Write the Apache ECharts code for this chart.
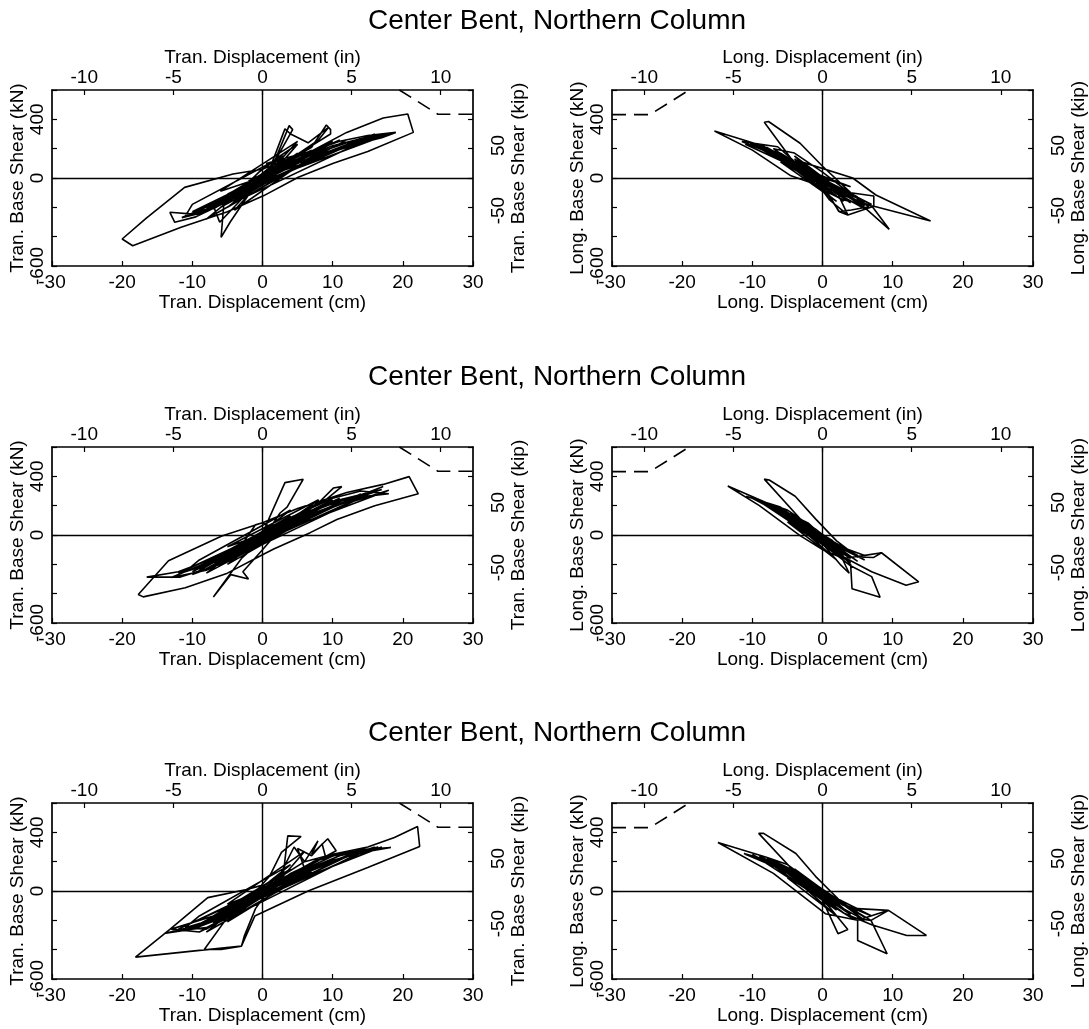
<!DOCTYPE html>
<html><head><meta charset="utf-8">
<script src="https://cdn.jsdelivr.net/npm/echarts@6/dist/echarts.min.js"></script>
<style>html,body{margin:0;padding:0;background:#fff}#c{width:1089px;height:1029px}</style>
</head><body><div id="c"></div>
<script>
const titleText = 'Center Bent, Northern Column';
const inchTicks = [-10, -5, 0, 5, 10];
const kipTicks = [-50, 50];
const kNLabelTicks = [-600, 0, 400];

// Tran. (cm, kN) hysteresis traces, rows 1..3
const tran1 = [[0,0],[1.5,45],[-1,-35],[2.5,80],[-2,-70],[1,30],[3.8,357],[4.3,330],[1,50],[-3,-90],[-5.5,-170],[-5.9,-404],[-4.6,-300],[-1.5,-80],[3,100],[7,210],[9.1,361],[9.7,330],[9.7,300],[6,190],[2,70],[-2,-50],[-7,-190],[-6.1,-302],[-3.5,-170],[1,60],[3.2,335],[4,300],[6.5,240],[9.4,345],[8,260],[4,130],[0,-20],[-4,-130],[-9,-250],[-13.2,-234],[-12.5,-302],[-9.5,-265],[-5,-160],[-1,-30],[5,150],[11,250],[15,290],[19,311],[17,275],[12,215],[7,120],[2,10],[-3,-110],[-8,-230],[-11.5,-270],[-9,-220],[-5,-130],[0,0],[6,140],[12,240],[17,290],[13.5,230],[8,150],[3,30],[-2,-90],[-7,-200],[-10.5,-255],[-6,-150],[-1,-10],[4,110],[10,220],[15,280],[18.5,305],[14,250],[9,160],[4,50],[-1,-70],[-6,-180],[2,60],[-7,-210],[8,200],[-5,-110],[10,250],[-8,-200],[14,270],[-3,-100],[16,300],[5,100],[-9,-240],[3,90],[-6,-200],[12,260],[1,-20],[-4,-160],[7,190],[-2,-20],[11,260],[-10,-230],[6,130],[-7,-170],[4,140],[-5,-200],[9,190],[-1,-40],[18,300],[13,220],[-2,-120],[-11,-260],[-10,-180],[3,150],[-8,-280],[6,100],[-6,-90],[5,250],[-4,-220],[8,180],[2,40],[-3,-60],[3,120],[-4,-150],[5,170],[-5,-170],[-0.5,40],[2.5,150],[5,230],[3,120],[0.5,99],[7.1,186],[12,311],[17.2,409],[20.7,436],[21.5,311],[15,180],[10.1,100],[5.1,5],[0.2,-120],[-5,-230],[-11.6,-336],[-18.5,-462],[-20,-416],[-16.6,-275],[-11.1,-64],[-4.2,27],[0,60],[2,100]];
const tran2 = [[0,0],[2,50],[-1.5,-50],[3,80],[-2.5,-80],[1,40],[4,120],[1,20],[-3,-100],[-6,-180],[-2,-40],[3,90],[8,220],[10.1,320],[11.3,330],[9,240],[5,130],[1,20],[-4,-130],[-8,-230],[-5,-150],[0,10],[1,120],[3.2,357],[5.8,380],[3.5,190],[2.5,150],[0,-30],[-3,-160],[-7,-422],[-4.5,-270],[-2,-300],[-2.8,-250],[0,-100],[4,120],[10,250],[14,300],[18,281],[15,265],[10,200],[5,100],[0,-30],[-6,-200],[-11.7,-287],[-16.5,-287],[-12,-250],[-7,-160],[-2,-60],[3,60],[9,200],[15,290],[17.2,330],[13,250],[8,150],[3,20],[-2,-100],[-8,-240],[-13,-290],[-9,-210],[-4,-110],[1,10],[7,160],[12,250],[16,300],[12,230],[6,120],[0,-40],[-5,-180],[-10,-270],[-6,-160],[-1,-30],[5,120],[11,240],[17,310],[14,260],[9,170],[3,60],[2,60],[-7,-220],[8,190],[-5,-120],[10,240],[-9,-230],[14,280],[-3,-110],[16,300],[5,110],[-10,-250],[3,80],[-6,-190],[12,250],[1,-20],[-4,-150],[7,170],[-2,-30],[11,250],[-12,-260],[6,120],[-7,-160],[4,130],[-5,-200],[9,180],[-1,-40],[18,305],[13,230],[-2,-110],[-11,-250],[-9,-170],[4,170],[-8,-260],[7,120],[-5,-80],[8,240],[2,40],[-3,-90],[4,130],[-4,-140],[-1,70],[0,84],[5,180],[12,290],[17.2,345],[20.9,398],[22.2,281],[16,200],[10.6,106],[6.8,16],[1.6,-96],[0,-135],[-5,-260],[-11,-360],[-17,-422],[-17.7,-406],[-13.4,-175],[-5.8,-7],[0,84],[1,60]];
const tran3 = [[0,0],[2,60],[-1.5,-40],[3,100],[-2.5,-90],[1,50],[3,130],[3.6,376],[5.5,372],[2.7,263],[1,100],[-2,-60],[-5,-180],[-8.3,-399],[-5.9,-399],[-3,-376],[-2.6,-308],[-1,-120],[2,80],[6,200],[7.9,342],[7,250],[9.3,356],[10.5,274],[8,210],[4,120],[0,-20],[-4,-150],[-8,-250],[-12.6,-273],[-10,-260],[-6,-170],[-2,-60],[3,90],[8,210],[13,280],[18.3,297],[15,270],[10,210],[5,120],[0,0],[-5,-170],[-10,-260],[-14,-290],[-9,-230],[-4,-110],[1,20],[6,150],[5,290],[7,240],[8.5,320],[9,230],[12,260],[16,290],[13,250],[7,140],[2,30],[-3,-120],[-8,-260],[-11,-250],[-6,-190],[-1,-50],[4,100],[11,240],[16.5,300],[12,240],[6,130],[1,20],[-4,-160],[-9,-280],[-13,-260],[-7,-170],[-2,-40],[2,70],[-7,-220],[8,220],[-5,-130],[10,260],[-9,-240],[14,280],[-3,-110],[16,300],[5,120],[-10,-250],[3,80],[-6,-200],[12,270],[1,-10],[-4,-160],[7,190],[-2,-30],[11,260],[-12,-260],[6,130],[-7,-170],[4,150],[-5,-210],[9,200],[-1,-40],[17,300],[13,240],[-2,-120],[-11,-250],[-9,-170],[4,180],[-8,-280],[7,130],[-5,-90],[6,270],[2,50],[3,110],[-3,-110],[2.5,110],[4.5,300],[6,200],[10,250],[15,300],[18.8,365],[22.1,440],[22.4,304],[15,160],[6.5,0],[-1.1,-171],[-3,-376],[-10,-410],[-18.1,-451],[-13.2,-262],[-7.8,-45],[-2.1,12],[0,40]];
// Long. (cm, kN) hysteresis traces, rows 1..3
const long1 = [[0,0],[-2,40],[1.5,-50],[-3,80],[2.5,-80],[-1,30],[3,-110],[-4,110],[2,-60],[1,-104],[-2,70],[-6,160],[-8.3,214],[-10.9,254],[-7,150],[-3,60],[2,-90],[3.6,-252],[2.4,-230],[0,-60],[-4,100],[-8.3,380],[-7.7,385],[-3.2,237],[0,80],[4,-100],[7.3,-123],[7.3,-196],[4,-140],[0,0],[-5,130],[-7,200],[-4,170],[0,40],[3,-70],[6.6,-196],[4.1,-218],[2.3,-228],[1,-120],[-2,30],[-6.4,213],[-11.5,248],[-8,180],[-3,70],[1,-60],[5,-160],[9.5,-350],[7.1,-196],[3.6,-252],[1,-150],[-1,-20],[-4,90],[-9,220],[-11,230],[-6,120],[-1,10],[3,-120],[6,-170],[2,-100],[-2,60],[5,-160],[-6,170],[3,-90],[-8,210],[4,-170],[-4,130],[6,-190],[-1,20],[-9,230],[2,-120],[-5,110],[7,-180],[0,-30],[-7,200],[3,-160],[-3,50],[5,-130],[-10,240],[1,-80],[-4,150],[6,-210],[-6,110],[2,-160],[-4,60],[4,-60],[-2,50],[-10.9,254],[-15.4,320],[-10,190],[-4.5,15],[0,-60],[-3,110],[4.3,0],[7.6,-116],[15.4,-293],[7.6,-196],[3,-150],[0,-80],[-3,40],[-6,150],[-2,50],[0,0]];
const long2 = [[0,0],[-2,50],[1.5,-40],[-3,90],[2.5,-90],[-1,40],[3,-120],[-4,120],[1,-50],[-2,80],[-5,150],[-8,220],[-5,170],[-1,40],[2,-80],[3.8,-261],[2.5,-200],[0,-60],[-3,100],[-8.3,381],[-7.6,375],[-3.9,264],[-1,110],[2,-40],[5,-150],[7.3,-153],[8.4,-121],[6,-140],[2,-70],[-2,50],[-6,190],[-10.9,264],[-8,220],[-4,130],[0,0],[4,-200],[4.2,-366],[8.2,-424],[7,-284],[4,-210],[1,-100],[-2,30],[-4,90],[2,-110],[-3,60],[3,-140],[-2,60],[4,-150],[-6,170],[3,-100],[-8,210],[4,-160],[-4,130],[5,-180],[-1,20],[-9,230],[2,-120],[-5,120],[6,-170],[0,-30],[-7,190],[3,-150],[-3,60],[5,-140],[-9,240],[1,-80],[-4,140],[4,-190],[-5,90],[2,-170],[-3,40],[-7,200],[-13.5,334],[-9,200],[-3.2,-4],[0,-100],[3,-160],[8.4,-121],[13.7,-319],[11.9,-343],[7,-250],[3,-150],[0,-40],[-3,60],[-7,190],[-10,250],[-6,150],[-2,40],[0,0]];
const long3 = [[0,0],[-2,50],[1.5,-40],[-3,90],[2.5,-90],[-1,40],[3,-120],[-4,120],[1,-50],[-2,80],[-5,160],[-8,230],[-5,180],[-1,40],[2.2,-291],[3.6,-263],[1,-110],[-3,80],[-9.1,393],[-8.4,393],[-3.8,256],[-1,100],[3,-90],[6.9,-200],[9.4,-132],[5,-120],[1,-30],[-3,100],[-11.2,256],[-7,200],[-3,100],[1,-20],[5,-160],[5,-337],[9.2,-428],[6.9,-200],[4,-180],[0,-60],[-2,40],[2,-100],[-3,70],[-2,60],[5,-150],[-6,180],[3,-100],[-8,220],[4,-160],[-4,140],[6,-180],[-1,30],[-9,240],[2,-130],[-5,120],[7,-170],[0,-30],[-7,210],[3,-150],[-3,60],[5,-140],[-10,250],[1,-90],[-4,150],[6,-200],[-5,90],[2,-170],[-3,40],[-4,120],[-8,230],[-14.9,331],[-7,120],[0.4,-155],[5,-200],[9.4,-132],[14.8,-303],[12,-303],[7,-230],[3,-150],[0,-50],[-3,70],[-7,180],[-11,250],[-6,150],[-2,40],[0,0]];
// dashed capacity lines (cm, kN)
const capacityTran = [[19.5,600],[25,435],[30,435]];
const capacityLong = [[-30,432],[-24.6,432],[-19,600]];

const CM_PER_IN = 2.54, KN_PER_KIP = 4.448;
const FONT = '"Liberation Sans", Arial, Helvetica, sans-serif';
const panels = [
  {data: tran1, cap: capacityTran, kind: 'Tran.', left: 52, top: 90, width: 421},
  {data: long1, cap: capacityLong, kind: 'Long.', left: 612, top: 90, width: 430},
  {data: tran2, cap: capacityTran, kind: 'Tran.', left: 52, top: 447, width: 421},
  {data: long2, cap: capacityLong, kind: 'Long.', left: 612, top: 447, width: 430},
  {data: tran3, cap: capacityTran, kind: 'Tran.', left: 52, top: 803, width: 421},
  {data: long3, cap: capacityLong, kind: 'Long.', left: 612, top: 803, width: 430}
];
const H = 176;
const txt = {color: '#000', fontSize: 19, fontFamily: FONT};
const axLine = {show: true, onZero: false, lineStyle: {color: '#000', width: 1.7}};
const tick = {show: true, inside: true, length: 5, lineStyle: {color: '#000', width: 1.2}};

const grid = [], xAxis = [], yAxis = [], series = [];
panels.forEach((p, i) => {
  grid.push({left: p.left, top: p.top, width: p.width, height: H});
  xAxis.push({type: 'value', gridIndex: i, position: 'bottom', min: -30, max: 30, interval: 10,
    axisLine: axLine, axisTick: tick, splitLine: {show: false},
    axisLabel: Object.assign({margin: 7, showMinLabel: true, showMaxLabel: true}, txt),
    name: p.kind + ' Displacement (cm)', nameLocation: 'middle', nameGap: 23, nameTextStyle: txt});
  xAxis.push({type: 'value', gridIndex: i, position: 'top', min: -30, max: 30,
    axisLine: axLine, splitLine: {show: false},
    axisTick: Object.assign({customValues: inchTicks.map(v => v * CM_PER_IN)}, tick),
    axisLabel: Object.assign({margin: 3, customValues: inchTicks.map(v => v * CM_PER_IN),
      formatter: v => String(Math.round(v / CM_PER_IN))}, txt),
    name: p.kind + ' Displacement (in)', nameLocation: 'middle', nameGap: 22, nameTextStyle: txt});
  yAxis.push({type: 'value', gridIndex: i, position: 'left', min: -600, max: 600, interval: 200,
    axisLine: axLine, axisTick: tick, splitLine: {show: false},
    axisLabel: Object.assign({margin: 5, rotate: 90, customValues: kNLabelTicks,
      formatter: v => String(v)}, txt),
    name: p.kind + ' Base Shear (kN)', nameLocation: 'middle', nameRotate: 90, nameGap: 21, nameTextStyle: txt});
  yAxis.push({type: 'value', gridIndex: i, position: 'right', min: -600, max: 600, interval: 200,
    axisLine: axLine, axisTick: tick, splitLine: {show: false},
    axisLabel: Object.assign({margin: 16, rotate: 90, customValues: kipTicks.map(v => v * KN_PER_KIP),
      formatter: v => String(Math.round(v / KN_PER_KIP))}, txt),
    name: p.kind + ' Base Shear (kip)', nameLocation: 'middle', nameRotate: 90, nameGap: 33, nameTextStyle: txt});
  series.push({type: 'line', xAxisIndex: 2 * i, yAxisIndex: 2 * i, data: p.data,
    symbol: 'none', showSymbol: false, lineStyle: {color: '#000', width: 1.6}, clip: true, z: 3,
    markLine: {silent: true, symbol: 'none', label: {show: false}, animation: false,
      lineStyle: {color: '#000', width: 1.4, type: 'solid'}, data: [{xAxis: 0}, {yAxis: 0}]}});
  series.push({type: 'line', xAxisIndex: 2 * i, yAxisIndex: 2 * i, data: p.cap,
    symbol: 'none', showSymbol: false, clip: true,
    lineStyle: {color: '#000', width: 1.6, type: [14, 8]}});
});

const title = [7, 363, 719].map(t => ({text: titleText, left: 557, top: t, textAlign: 'center', padding: 0,
  textStyle: {fontSize: 28, fontWeight: 'normal', color: '#000', fontFamily: FONT}}));

const chart = echarts.init(document.getElementById('c'), null, {renderer: 'canvas'});
chart.setOption({animation: false, backgroundColor: '#fff', title, grid, xAxis, yAxis, series});
</script></body></html>
